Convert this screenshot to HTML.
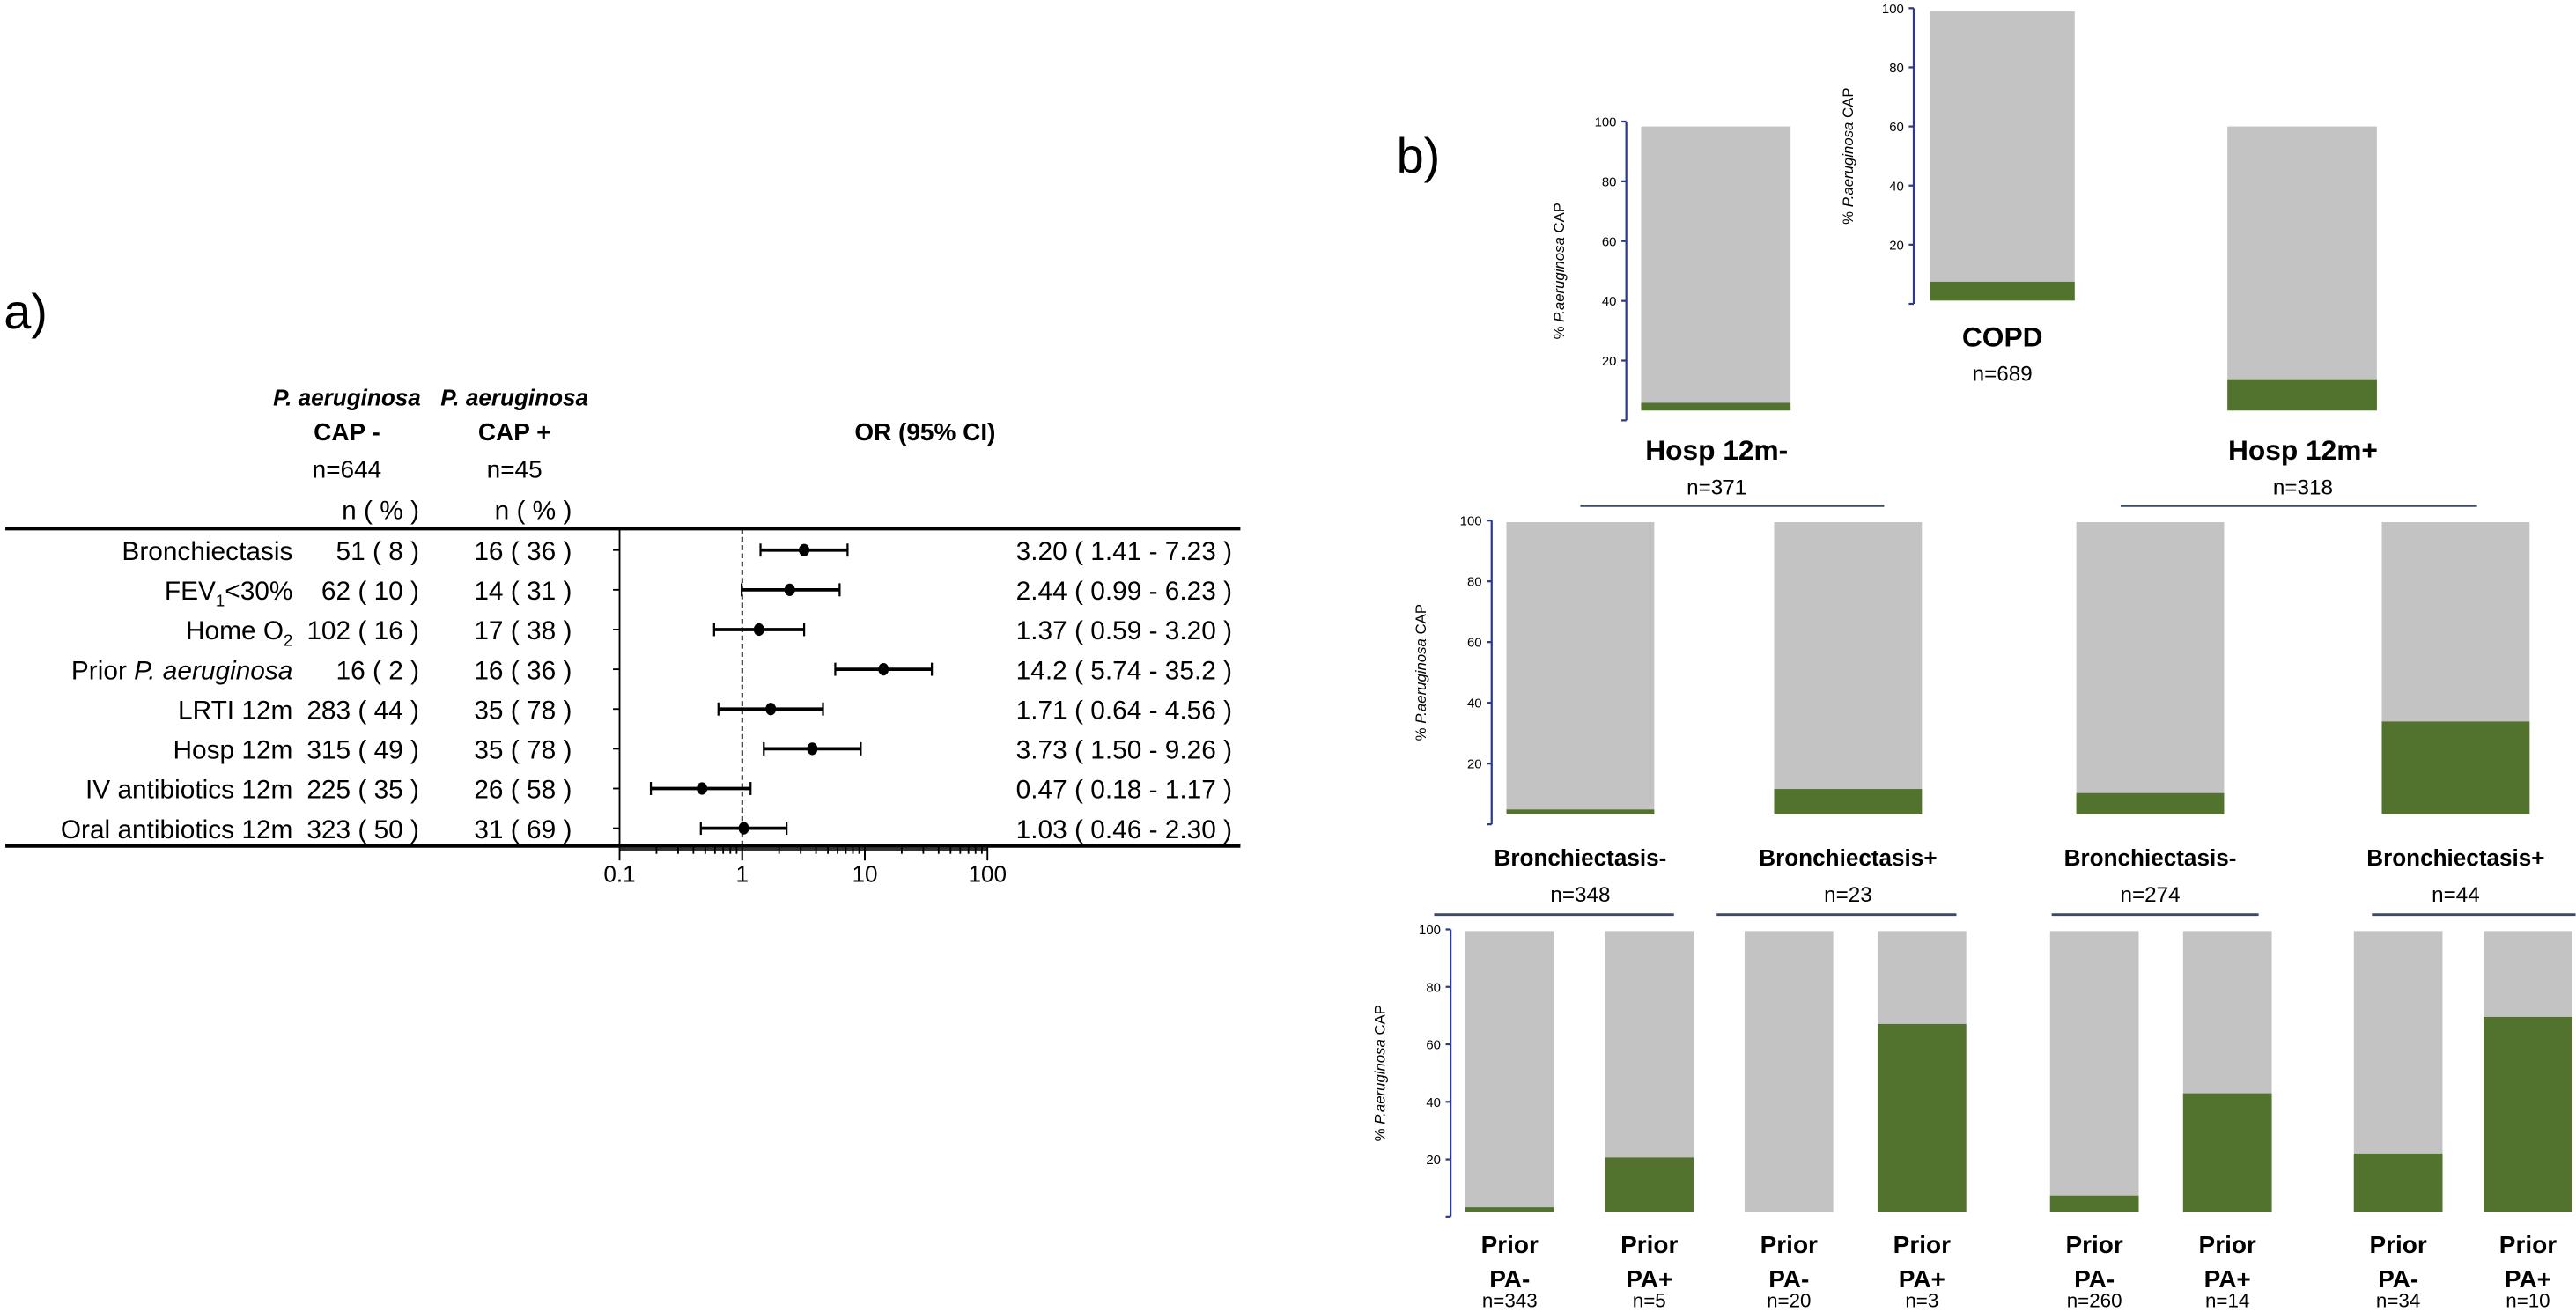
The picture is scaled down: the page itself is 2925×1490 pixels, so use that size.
<!DOCTYPE html>
<html><head><meta charset="utf-8">
<style>
html,body{margin:0;padding:0;background:#fff;}
svg{display:block;}
text{font-family:"Liberation Sans Narrow","Liberation Sans",sans-serif;fill:#000;}
</style></head>
<body>
<svg id="fig" xmlns="http://www.w3.org/2000/svg" width="2925" height="1490" viewBox="0 0 1568 799">
<rect x="0" y="0" width="1568" height="799" fill="#fff"/>
<text x="2" y="200" font-size="30">a)</text>
<text x="850" y="105" font-size="30">b)</text>
<g id="forest"></g>
<g id="bars"></g>
</svg>
<script>
// ---------- Forest plot data ----------
const rowLabels = ["Bronchiectasis","FEV1<30%","Home O2","Prior P. aeruginosa","LRTI 12m","Hosp 12m","IV antibiotics 12m","Oral antibiotics 12m"];
const negCounts = ["51 ( 8 )","62 ( 10 )","102 ( 16 )","16 ( 2 )","283 ( 44 )","315 ( 49 )","225 ( 35 )","323 ( 50 )"];
const posCounts = ["16 ( 36 )","14 ( 31 )","17 ( 38 )","16 ( 36 )","35 ( 78 )","35 ( 78 )","26 ( 58 )","31 ( 69 )"];
const orValues = [3.20,2.44,1.37,14.2,1.71,3.73,0.47,1.03];
const ciLow = [1.41,0.99,0.59,5.74,0.64,1.50,0.18,0.46];
const ciHigh = [7.23,6.23,3.20,35.2,4.56,9.26,1.17,2.30];
const orLabels = ["3.20 ( 1.41 - 7.23 )","2.44 ( 0.99 - 6.23 )","1.37 ( 0.59 - 3.20 )","14.2 ( 5.74 - 35.2 )","1.71 ( 0.64 - 4.56 )","3.73 ( 1.50 - 9.26 )","0.47 ( 0.18 - 1.17 )","1.03 ( 0.46 - 2.30 )"];
const xTickValues = [0.1,1,10,100];
const xTickLabels = ["0.1","1","10","100"];

// ---------- Bar tree data (% P. aeruginosa CAP) ----------
const topGroups = ["Hosp 12m-","COPD","Hosp 12m+"];
const topN = ["n=371","n=689","n=318"];
const topPct = [2.7,6.5,11.0];
const midGroups = ["Bronchiectasis-","Bronchiectasis+","Bronchiectasis-","Bronchiectasis+"];
const midN = ["n=348","n=23","n=274","n=44"];
const midPct = [1.7,8.7,7.3,31.8];
const botGroups = ["Prior PA-","Prior PA+","Prior PA-","Prior PA+","Prior PA-","Prior PA+","Prior PA-","Prior PA+"];
const botN = ["n=343","n=5","n=20","n=3","n=260","n=14","n=34","n=10"];
const botPct = [1.6,19.4,0,66.9,5.8,42.2,20.8,69.4];
const yTicks = [20,40,60,80,100];

const NS="http://www.w3.org/2000/svg";
function mk(parent,tag,attrs,txt){const e=document.createElementNS(NS,tag);for(const k in attrs)e.setAttribute(k,attrs[k]);if(txt!==undefined)e.textContent=txt;parent.appendChild(e);return e;}

// ---------- forest ----------
const F=document.getElementById('forest');
const ax0=377, ax1=601, rowY0=335, rowDy=24.2;
function xs(v){return ax0+(Math.log10(v)+1)/3*(ax1-ax0);}
function ry(i){return rowY0+i*rowDy;}
let t;
t=mk(F,'text',{x:211,y:247,'font-size':14,'font-weight':'bold','font-style':'italic','text-anchor':'middle'},'P. aeruginosa');

t=mk(F,'text',{x:313,y:247,'font-size':14,'font-weight':'bold','font-style':'italic','text-anchor':'middle'},'P. aeruginosa');

t=mk(F,'text',{x:211,y:268,'font-size':15,'font-weight':'bold','text-anchor':'middle'},'CAP -');

t=mk(F,'text',{x:313,y:268,'font-size':15,'font-weight':'bold','text-anchor':'middle'},'CAP +');

t=mk(F,'text',{x:211,y:291,'font-size':15,'text-anchor':'middle'},'n=644');

t=mk(F,'text',{x:313,y:291,'font-size':15,'text-anchor':'middle'},'n=45');

t=mk(F,'text',{x:563,y:268,'font-size':15,'font-weight':'bold','text-anchor':'middle'},'OR (95% CI)');

t=mk(F,'text',{x:255,y:316,'font-size':16,'text-anchor':'end'},'n ( % )');

t=mk(F,'text',{x:348,y:316,'font-size':16,'text-anchor':'end'},'n ( % )');

let l=mk(F,'line',{x1:3,y1:322,x2:755,y2:322,stroke:'#000','stroke-width':2});

l=mk(F,'line',{x1:3,y1:515,x2:755,y2:515,stroke:'#000','stroke-width':2.5});

l=mk(F,'line',{x1:ax0,y1:322,x2:ax0,y2:515,stroke:'#000','stroke-width':1});

l=mk(F,'line',{x1:ax0,y1:517,x2:ax1,y2:517,stroke:'#333','stroke-width':2});

l=mk(F,'line',{x1:xs(1),y1:322,x2:xs(1),y2:517,stroke:'#000','stroke-width':1,'stroke-dasharray':'3,2'});

for(let d=-1;d<2;d++){for(let m=1;m<=10;m++){const v=m*Math.pow(10,d);const big=(m===1||m===10);
 l=mk(F,'line',{x1:xs(v),y1:516,x2:xs(v),y2:big?524:520,stroke:'#000','stroke-width':1});
 }}
xTickValues.forEach((v,i)=>{t=mk(F,'text',{x:xs(v),y:537,'font-size':14,'text-anchor':'middle'},xTickLabels[i]);
 });
rowLabels.forEach((lab,i)=>{
 const y=ry(i), yb=y+6;
 let tx;
 if(i===1){tx=mk(F,'text',{x:178,y:yb,'font-size':16,'text-anchor':'end'});mk(tx,'tspan',{},'FEV');mk(tx,'tspan',{'font-size':10,dy:4},'1');mk(tx,'tspan',{dy:-4},'<30%');}
 else if(i===2){tx=mk(F,'text',{x:178,y:yb,'font-size':16,'text-anchor':'end'});mk(tx,'tspan',{},'Home O');mk(tx,'tspan',{'font-size':10,dy:4},'2');}
 else if(i===3){tx=mk(F,'text',{x:178,y:yb,'font-size':16,'text-anchor':'end'});mk(tx,'tspan',{},'Prior ');mk(tx,'tspan',{'font-style':'italic'},'P. aeruginosa');}
 else tx=mk(F,'text',{x:178,y:yb,'font-size':16,'text-anchor':'end'},lab);
 
 t=mk(F,'text',{x:255,y:yb,'font-size':16,'text-anchor':'end'},negCounts[i]);
 
 t=mk(F,'text',{x:348,y:yb,'font-size':16,'text-anchor':'end'},posCounts[i]);
 
 t=mk(F,'text',{x:750,y:yb,'font-size':16,'text-anchor':'end'},orLabels[i]);
 
 l=mk(F,'line',{x1:ax0-4,y1:y,x2:ax0,y2:y,stroke:'#000','stroke-width':1});
 
 l=mk(F,'line',{x1:xs(ciLow[i]),y1:y,x2:xs(ciHigh[i]),y2:y,stroke:'#000','stroke-width':2});
 
 [ciLow[i],ciHigh[i]].forEach(v=>{l=mk(F,'line',{x1:xs(v),y1:y-4,x2:xs(v),y2:y+4,stroke:'#000','stroke-width':1.2});
  });
 const c=mk(F,'ellipse',{cx:xs(orValues[i]),cy:y,rx:3.2,ry:3.8,fill:'#000'});
 
});

// ---------- bars ----------
const B=document.getElementById('bars');
const GRAY='#c3c3c3', GREEN='#52732d', AX='#2b3a8c', BR='#3d4a66';
function axis(x,top,bot,titleX){
 l=mk(B,'line',{x1:x,y1:top,x2:x,y2:bot,stroke:AX,'stroke-width':1.2});
 
 const ys=v=>bot-(bot-top)*v/100;
 [0].concat(yTicks).forEach(v=>{l=mk(B,'line',{x1:x-3,y1:ys(v),x2:x,y2:ys(v),stroke:AX,'stroke-width':1.2});
  });
 yTicks.forEach(v=>{t=mk(B,'text',{x:x-6,y:ys(v)+3,'font-size':8,'text-anchor':'end',fill:'#333'},String(v));
  });
 const my=(top+bot)/2;
 const tt=mk(B,'text',{x:titleX,y:my,'font-size':9,'text-anchor':'middle',transform:`rotate(-90 ${titleX} ${my})`,fill:'#333'});
 mk(tt,'tspan',{},'% ');mk(tt,'tspan',{'font-style':'italic'},'P.aeruginosa');mk(tt,'tspan',{},' CAP');
 
}
function bar(x,w,top,bot,pct,name){
 const g=mk(B,'rect',{x:x,y:top,width:w,height:bot-top,fill:GRAY});
 
 const h=(bot-top)*pct/100;
 const r=mk(B,'rect',{x:x,y:bot-h,width:w,height:h,fill:GREEN});
 
}
function lbl(x,y,s,bold,size){t=mk(B,'text',{x:x,y:y,'font-size':size,'font-weight':bold?'bold':'normal','text-anchor':'middle'},s);
 }
function bracket(x1,x2,y){l=mk(B,'line',{x1:x1,y1:y,x2:x2,y2:y,stroke:BR,'stroke-width':1.5});
 }

// top row
const topX=[999,1175,1356], topW=[91,88,91], topTop=[77,7,77], topBot=[250,183,250];
topPct.forEach((p,i)=>bar(topX[i],topW[i],topTop[i],topBot[i],p,'bar-top-'+i));
axis(990,74,256,952);
axis(1165,5,185,1128);
lbl(1219,211,topGroups[1],true,17); lbl(1219,232,topN[1],false,13);
lbl(1045,280,topGroups[0],true,17); lbl(1045,301,topN[0],false,13);
lbl(1402,280,topGroups[2],true,17); lbl(1402,301,topN[2],false,13);
bracket(962,1147,308); bracket(1291,1508,308);

// middle row
axis(908,317,502,868);
const midX=[917,1080,1264,1450];
midPct.forEach((p,i)=>bar(midX[i],90,318,496,p,'bar-mid-'+i));
midGroups.forEach((g,i)=>{const cx=midX[i]+45;lbl(cx,527,g,true,14);lbl(cx,549,midN[i],false,13);});
bracket(873,1019,557); bracket(1045,1191,557); bracket(1249,1375,557); bracket(1444,1568,557);

// bottom row
axis(883,566,741,843);
const botX=[892,977,1062,1143,1248,1329,1433,1512];
botPct.forEach((p,i)=>bar(botX[i],54,567,738,p,'bar-bot-'+i));
botGroups.forEach((g,i)=>{const cx=botX[i]+27;const parts=g.split(' ');
 lbl(cx,763,parts[0],true,15);lbl(cx,784,parts[1],true,15);lbl(cx,796,botN[i],false,12);});
</script>
</body></html>
